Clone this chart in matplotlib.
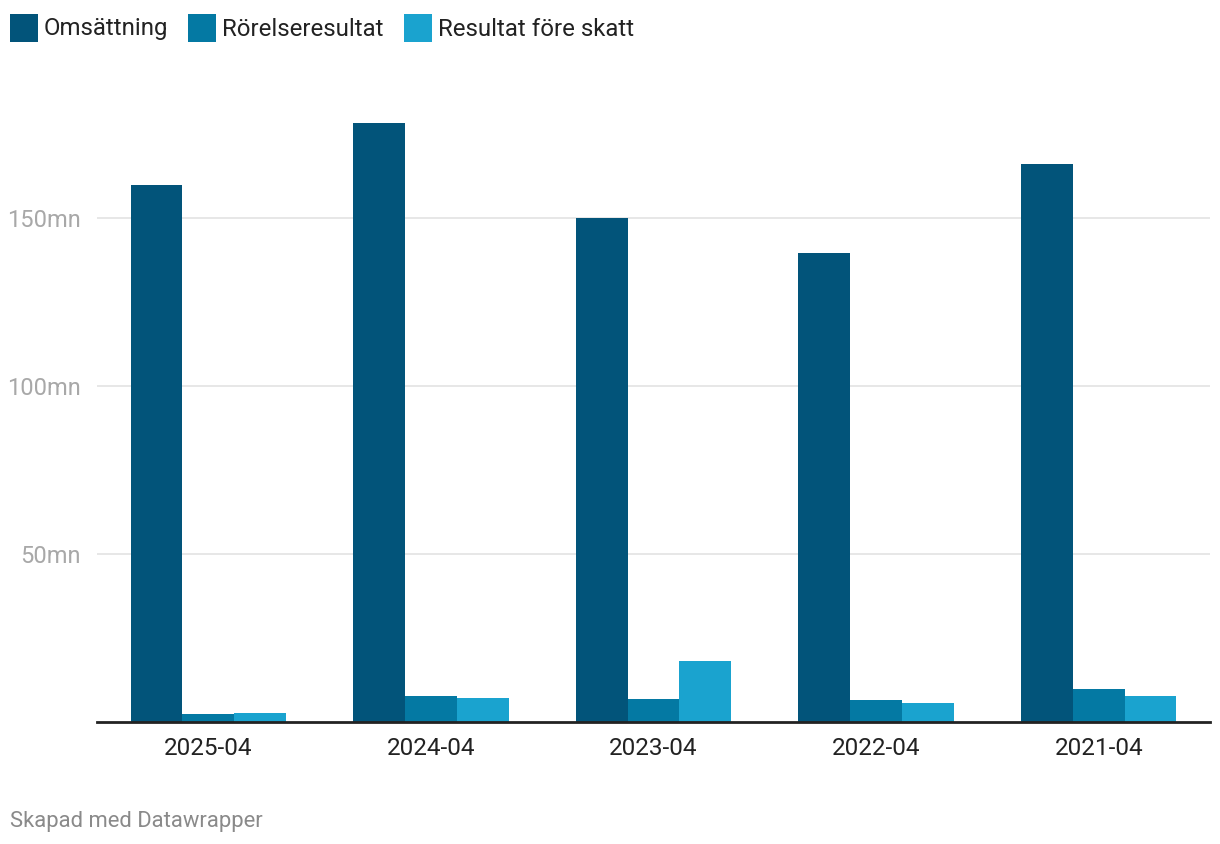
import matplotlib.pyplot as plt
import numpy as np
from matplotlib.patches import Rectangle

plt.rcParams["font.family"] = ["Roboto", "DejaVu Sans"]

# data (mn SEK)
periods = ["2025-04", "2024-04", "2023-04", "2022-04", "2021-04"]
omsattning = [159.8, 178.3, 150.0, 139.6, 166.1]
rorelseresultat = [2.5, 7.8, 6.8, 6.5, 9.7]
resultat_fore_skatt = [2.8, 7.1, 18.1, 5.7, 7.7]

series = ["Omsättning", "Rörelseresultat", "Resultat före skatt"]
colors = ["#02547a", "#0479a3", "#1aa3cf"]

W, H = 1220, 844
fig = plt.figure(figsize=(W / 100, H / 100), dpi=100)

# axes placed in pixel terms
left, right, bottom, top = 97, 1210, 722, 84
ax = fig.add_axes([left / W, 1 - bottom / H, (right - left) / W, (bottom - top) / H])

x = np.arange(len(periods))
width = 0.233
for i, (vals, col) in enumerate(zip([omsattning, rorelseresultat, resultat_fore_skatt], colors)):
    ax.bar(x + (i - 1) * width, vals, width=width, color=col, zorder=2, linewidth=0)

ax.set_xlim(-0.5, len(periods) - 0.5)
ax.set_ylim(0, 190)
ax.set_yticks([50, 100, 150])
ax.set_yticklabels(["50mn", "100mn", "150mn"])
ax.yaxis.grid(True, color="#e3e3e3", linewidth=1.2, zorder=0)
ax.set_xticks(x)
ax.set_xticklabels(periods)

for s in ["top", "right", "left"]:
    ax.spines[s].set_visible(False)
ax.spines["bottom"].set_color("#222222")
ax.spines["bottom"].set_linewidth(2)
ax.spines["bottom"].set_zorder(3)

ax.tick_params(axis="y", length=0, pad=12, labelsize=17, labelcolor="#a8a8a8")
ax.tick_params(axis="x", length=0, pad=11, labelsize=17.5, labelcolor="#222222")

# legend drawn by hand in figure pixels
legend_x = [10, 188, 404]
for lx, name, col in zip(legend_x, series, colors):
    fig.patches.append(Rectangle((lx / W, 1 - 42 / H), 28 / W, 28 / H,
                                 transform=fig.transFigure, color=col, linewidth=0))
    fig.text((lx + 34) / W, 1 - 29 / H, name, fontsize=17.3, color="#222222",
             va="center", ha="left")

fig.text(10 / W, 1 - 821 / H, "Skapad med Datawrapper", fontsize=15.8,
         color="#8a8a8a", va="center", ha="left")

plt.savefig("out.png", dpi=100)
